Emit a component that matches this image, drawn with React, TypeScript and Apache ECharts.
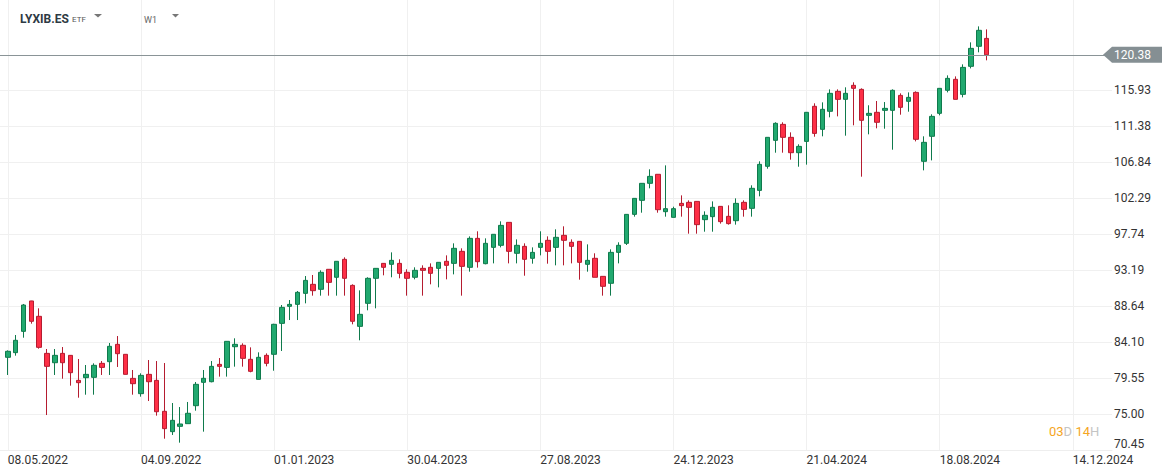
import React, { useEffect, useRef } from 'react';
import * as echarts from 'echarts';

const FIRST_WEEK = '2022-05-01';
const WEEK_COUNT = 143;
const TICK_EVERY = 17;
const X_TICK_LABELS = ['08.05.2022', '04.09.2022', '01.01.2023', '30.04.2023', '27.08.2023', '24.12.2023', '21.04.2024', '18.08.2024', '14.12.2024'];

const Y_MIN = 70.4527;
const Y_MAX = 127.3;
const Y_STEP = 4.5478;
const Y_LAST_LABEL = 115.93;

const OPEN = [
  82.16, 82.75, 85.44, 89.28, 87.34, 82.66, 81.48, 82.66, 82.41, 79.25,
  79.59, 79.63, 81.40, 81.61, 83.80, 82.54, 79.50, 77.57, 80.01, 79.25,
  75.34, 72.77, 73.44, 73.78, 76.05, 79.00, 79.08, 81.27, 80.89, 83.50,
  83.68, 81.91, 79.38, 82.41, 82.54, 86.45, 88.60, 88.85, 90.24, 91.38,
  90.75, 93.28, 92.27, 94.54, 91.25, 86.07, 88.98, 92.14, 94.03, 93.91,
  94.03, 92.90, 92.27, 93.40, 93.53, 93.40, 94.29, 94.03, 95.55, 93.53,
  97.19, 93.99, 96.05, 96.31, 99.21, 95.30, 96.18, 94.67, 96.05, 96.94,
  96.05, 97.57, 96.69, 96.81, 93.91, 94.67, 92.39, 91.51, 95.42, 96.56,
  100.22, 101.99, 104.14, 105.28, 100.56, 99.84, 101.61, 101.74, 101.86, 99.55,
  99.93, 101.23, 99.97, 99.42, 101.74, 100.98, 103.25, 106.29, 109.57, 111.59,
  109.95, 108.01, 109.44, 113.87, 110.96, 113.24, 115.76, 114.75, 116.52, 116.01,
  112.73, 113.11, 113.36, 113.36, 115.25, 114.50, 115.63, 106.92, 110.08, 112.98,
  115.89, 117.28, 115.38, 118.92, 121.45, 122.45,
];
const CLOSE = [
  82.92, 84.31, 88.77, 86.71, 83.42, 81.02, 82.41, 81.48, 80.22, 78.96,
  80.01, 81.15, 80.89, 83.55, 82.62, 80.01, 78.83, 79.88, 79.08, 75.29,
  73.15, 74.20, 73.74, 75.09, 78.75, 79.51, 81.02, 81.02, 84.18, 83.80,
  82.03, 80.39, 82.16, 81.40, 86.33, 88.47, 88.85, 90.37, 91.88, 90.58,
  92.90, 91.63, 94.29, 92.14, 86.71, 87.59, 92.14, 93.40, 93.53, 94.41,
  92.77, 92.14, 93.15, 93.15, 92.77, 94.16, 93.78, 95.93, 93.65, 97.19,
  94.24, 96.56, 97.70, 98.83, 95.55, 96.31, 94.54, 95.42, 96.56, 95.55,
  97.32, 96.94, 96.18, 94.16, 94.41, 92.27, 91.13, 95.42, 96.31, 100.22,
  102.24, 104.14, 105.02, 100.81, 100.94, 100.94, 101.32, 101.11, 98.92, 100.10,
  101.11, 99.30, 99.05, 101.61, 100.85, 103.51, 106.54, 109.95, 111.72, 109.95,
  108.01, 108.81, 113.11, 110.45, 113.49, 115.51, 114.75, 115.51, 116.14, 112.10,
  112.98, 111.85, 113.61, 115.89, 113.74, 115.00, 109.70, 109.32, 112.60, 116.14,
  117.40, 114.75, 118.79, 121.19, 123.47, 120.38,
];
const LOW = [
  79.93, 82.37, 84.64, 86.41, 83.25, 74.87, 79.93, 79.46, 78.58, 77.06,
  77.44, 77.44, 79.93, 79.93, 80.94, 80.00, 77.44, 77.19, 76.64, 74.79,
  71.88, 72.35, 71.38, 73.78, 75.42, 72.77, 79.00, 79.72, 79.72, 80.98,
  80.98, 80.27, 79.38, 81.02, 80.47, 82.96, 86.87, 86.87, 88.98, 89.95,
  89.95, 89.95, 89.95, 89.95, 86.33, 84.31, 88.10, 88.35, 92.52, 92.27,
  92.14, 89.95, 92.01, 89.95, 91.38, 91.00, 92.01, 92.64, 89.95, 92.98,
  93.49, 93.91, 94.03, 96.05, 94.03, 94.03, 92.47, 93.99, 95.04, 93.99,
  93.78, 93.78, 94.03, 91.97, 92.98, 92.27, 89.95, 89.95, 94.03, 96.35,
  99.93, 100.43, 103.51, 100.43, 99.93, 99.84, 99.93, 97.78, 97.78, 98.03,
  98.03, 99.05, 98.92, 98.92, 99.93, 99.93, 102.50, 105.99, 108.01, 108.01,
  107.13, 106.24, 106.50, 110.03, 110.08, 112.48, 112.60, 110.16, 111.47, 104.98,
  110.33, 111.09, 111.04, 108.39, 112.81, 113.19, 109.44, 105.78, 107.04, 112.73,
  115.63, 114.75, 115.00, 118.66, 120.69, 119.68,
];
const HIGH = [
  83.04, 84.98, 88.90, 89.30, 88.35, 83.21, 83.21, 83.46, 82.45, 81.95,
  81.19, 81.40, 81.69, 83.97, 84.85, 82.56, 80.56, 80.14, 81.82, 81.69,
  81.44, 76.39, 75.88, 76.52, 79.04, 80.56, 81.69, 82.07, 84.20, 84.56,
  83.93, 83.42, 82.79, 82.66, 86.40, 88.77, 89.40, 90.54, 92.43, 92.56,
  93.15, 93.30, 94.30, 94.79, 91.38, 90.62, 92.27, 93.42, 94.05, 95.42,
  94.54, 93.28, 93.53, 93.78, 94.03, 94.18, 95.04, 96.56, 95.93, 97.44,
  98.08, 97.19, 97.72, 99.34, 99.23, 97.06, 96.56, 96.05, 98.08, 97.44,
  98.33, 98.71, 97.06, 96.83, 96.43, 95.30, 92.41, 95.80, 96.69, 100.25,
  102.26, 104.16, 105.91, 105.30, 106.41, 101.19, 102.62, 101.99, 101.88, 100.60,
  101.86, 101.25, 101.36, 102.24, 101.99, 103.89, 106.92, 109.97, 111.85, 111.85,
  110.58, 109.07, 113.13, 114.25, 114.37, 116.01, 116.01, 116.27, 116.90, 116.14,
  114.00, 114.54, 114.41, 116.01, 115.51, 115.63, 115.76, 110.08, 112.86, 116.16,
  117.78, 117.65, 119.17, 121.95, 123.97, 123.59,
];

const pad = (n: number) => (n < 10 ? '0' + n : '' + n);

function buildWeeks(): string[] {
  const start = new Date(FIRST_WEEK + 'T00:00:00Z').getTime();
  const out: string[] = [];
  for (let i = 0; i < WEEK_COUNT; i++) {
    const d = new Date(start + i * 7 * 86400000);
    out.push(pad(d.getUTCDate()) + '.' + pad(d.getUTCMonth() + 1) + '.' + d.getUTCFullYear());
  }
  return out;
}

export default function App() {
  const ref = useRef<HTMLDivElement>(null);
  useEffect(() => {
    const el = ref.current;
    if (!el) return;
    const chart = echarts.init(el, null, { renderer: 'svg' });
    const weeks = buildWeeks();
    const firstIdx = weeks.indexOf(X_TICK_LABELS[0]);
    const candles: any[] = weeks.map(() => ['-', '-', '-', '-']);
    for (let i = 0; i < OPEN.length; i++) {
      candles[firstIdx + i] = [OPEN[i], CLOSE[i], LOW[i], HIGH[i]];
    }
    const tickNo = (idx: number) => {
      const k = idx - firstIdx;
      if (k < 0 || k % TICK_EVERY !== 0) return -1;
      const n = k / TICK_EVERY;
      return n < X_TICK_LABELS.length ? n : -1;
    };
    const showTick = (idx: number) => tickNo(idx) >= 0;
    const splitColors: string[] = [];
    for (let v = Y_MIN; v <= Y_MAX + Y_STEP; v += Y_STEP) {
      splitColors.push(v <= Y_LAST_LABEL + 0.01 ? '#f0f0f0' : 'rgba(0,0,0,0)');
    }
    const last = CLOSE[CLOSE.length - 1];
    const font = 'Roboto';

    chart.setOption({
      animation: false,
      backgroundColor: '#ffffff',
      textStyle: { fontFamily: font },
      grid: { left: -1, right: 63, top: 0, bottom: 26, containLabel: false },
      xAxis: {
        type: 'category',
        data: weeks,
        boundaryGap: false,
        axisLine: { show: true, lineStyle: { color: '#eeeeee' } },
        axisTick: { show: false },
        axisLabel: {
          interval: showTick,
          align: 'left',
          margin: 4,
          color: '#333333',
          fontSize: 12,
          fontFamily: font,
          hideOverlap: false,
          formatter: (val: string, idx: number) => {
            const n = tickNo(idx);
            return n >= 0 ? X_TICK_LABELS[n] : '';
          },
        },
        splitLine: { show: true, interval: showTick, lineStyle: { color: '#f0f0f0', width: 1 } },
      },
      yAxis: {
        type: 'value',
        position: 'right',
        min: Y_MIN,
        max: Y_MAX,
        interval: Y_STEP,
        scale: true,
        axisLine: { show: false },
        axisTick: { show: false },
        axisLabel: {
          margin: 2,
          color: '#333333',
          fontSize: 12,
          fontFamily: font,
          showMaxLabel: false,
          verticalAlignMinLabel: 'bottom',
          formatter: (v: number) => (v > Y_LAST_LABEL + 0.01 ? '' : v.toFixed(2)),
        },
        splitLine: { show: true, lineStyle: { color: splitColors, width: 1 } },
      },
      series: [
        {
          type: 'candlestick',
          data: candles,
          barWidth: 5,
          itemStyle: {
            color: '#21a96f',
            color0: '#fe2f46',
            borderColor: '#0f7a4c',
            borderColor0: '#b51c30',
            borderWidth: 1,
          },
          markLine: {
            silent: true,
            symbol: 'none',
            label: { show: false },
            lineStyle: { color: '#8a9497', type: 'solid', width: 1 },
            data: [{ yAxis: last }],
          },
        },
      ],
    });

    const py = chart.convertToPixel({ yAxisIndex: 0 }, last) as number;
    chart.setOption({
      graphic: [
        {
          type: 'polygon',
          shape: { points: [[1103, py], [1112, py - 8], [1162, py - 8], [1162, py + 8], [1112, py + 8]] },
          style: { fill: '#858f93' },
          z: 100,
        },
        {
          type: 'text',
          x: 1114,
          y: py,
          style: { text: last.toFixed(2), fill: '#ffffff', font: '12px Roboto', verticalAlign: 'middle', align: 'left' },
          z: 101,
        },
        {
          type: 'text',
          x: 20,
          y: 18.5,
          style: { text: 'LYXIB.ES', fill: '#2e3a44', font: 'bold 12px Roboto', verticalAlign: 'middle' },
          z: 100,
        },
        {
          type: 'text',
          x: 72,
          y: 19.5,
          style: { text: 'ETF', fill: '#555555', font: '8px Roboto', verticalAlign: 'middle' },
          z: 100,
        },
        {
          type: 'polygon',
          shape: { points: [[94, 14], [102, 14], [98, 17.5]] },
          style: { fill: '#777777' },
          z: 100,
        },
        {
          type: 'text',
          x: 144,
          y: 19.7,
          style: { text: 'W1', fill: '#666666', font: '9px Roboto', verticalAlign: 'middle' },
          z: 100,
        },
        {
          type: 'polygon',
          shape: { points: [[172, 14], [179, 14], [175.5, 17.5]] },
          style: { fill: '#777777' },
          z: 100,
        },
        {
          type: 'text',
          x: 1049,
          y: 431.5,
          style: {
            text: '{o|03}{g|D} {o|14}{g|H}',
            verticalAlign: 'middle',
            rich: {
              o: { fill: '#f5a623', font: '13px Roboto' },
              g: { fill: '#c4c4c4', font: '13px Roboto' },
            },
          },
          z: 100,
        },
      ],
    });

    return () => chart.dispose();
  }, []);
  return (
    <div
      ref={ref}
      style={{ position: 'fixed', left: 0, top: 0, width: 1175, height: 476, background: '#ffffff' }}
    />
  );
}
